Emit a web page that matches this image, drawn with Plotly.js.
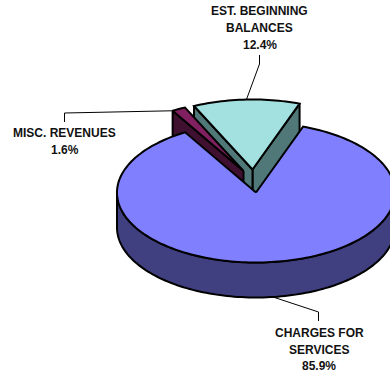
<!DOCTYPE html>
<html>
<head>
<meta charset="utf-8">
<script src="https://cdn.plot.ly/plotly-3.0.1.min.js"></script>
<style>html,body{margin:0;padding:0;background:#fff;overflow:hidden}#chart{width:390px;height:375px}</style>
</head>
<body>
<div id="chart"></div>
<script>
// Revenue shares, clockwise from the start angle
const categories = ["CHARGES FOR SERVICES", "MISC. REVENUES", "EST. BEGINNING BALANCES"];
const shares = [85.9, 1.6, 12.4];
const shareLabels = ["85.9%", "1.6%", "12.4%"];
const topColors = ["#8080FF", "#802060", "#A3E1E1"];
const wallColors = ["#404080", "#401030", "#507878"];
// Slice displacement from the pie centre
const offsetX = [0, -12.5, -3.5];
const offsetY = [0, -21.5, -23];

// Tilted pie geometry, in axis units
const CX = 256, CY = 192.5, RX = 139, RY = 70, DEPTH = 35, START = 19.8;
const INK = "#000000";

const total = shares.reduce((a, b) => a + b, 0);
const rad = d => d * Math.PI / 180;
const rim = (deg, i, drop) => [
  CX + offsetX[i] + RX * Math.sin(rad(deg)),
  CY + offsetY[i] - RY * Math.cos(rad(deg)) + (drop || 0)
];
function arc(from, to, i, drop) {
  const n = Math.max(2, Math.ceil(Math.abs(to - from) / 1.5));
  const pts = [];
  for (let k = 0; k <= n; k++) pts.push(rim(from + (to - from) * k / n, i, drop));
  return pts;
}
const apex = (i, drop) => [CX + offsetX[i], CY + offsetY[i] + (drop || 0)];

// Slice angles follow from the shares
const spans = [];
let cursor = START;
shares.forEach(v => {
  const end = cursor + v / total * 360;
  spans.push([cursor, end]);
  cursor = end;
});

const traces = [];
function polygon(pts, fill, width) {
  traces.push({
    type: "scatter", mode: "lines", hoverinfo: "skip", showlegend: false,
    x: pts.map(p => p[0]), y: pts.map(p => p[1]),
    fill: "toself", fillcolor: fill,
    line: { color: INK, width: width || 2, simplify: false }
  });
}
function leader(pts) {
  traces.push({
    type: "scatter", mode: "lines", hoverinfo: "skip", showlegend: false,
    x: pts.map(p => p[0]), y: pts.map(p => p[1]),
    line: { color: INK, width: 1 }
  });
}
function cutFace(deg, i) {
  polygon([apex(i), rim(deg, i), rim(deg, i, DEPTH), apex(i, DEPTH), apex(i)], wallColors[i]);
}

// Back slices first, the large slice last so it overlaps their walls
[2, 1].forEach(i => {
  if (i === 2) { cutFace(spans[i][1], i); }
  cutFace(spans[i][0], i);
  polygon([apex(i)].concat(arc(spans[i][0], spans[i][1], i), [apex(i)]), topColors[i]);
});

// Front wall of the large slice, then its top face
const wallTop = arc(90, 270, 0);
const wallBottom = arc(270, 90, 0, DEPTH);
polygon(wallTop.concat(wallBottom, [wallTop[0]]), wallColors[0]);
polygon([apex(0)].concat(arc(spans[0][0], spans[0][1], 0), [apex(0)]), topColors[0]);

// Leader lines run from the slice rims to their labels
const mainAnchor = rim(173, 0, DEPTH);
leader([mainAnchor, [318.5, 312], [318.5, 321]]);
const miscAnchor = rim(spans[1][0], 1);
leader([miscAnchor, [64.5, 113], [64.5, 122]]);
const estAnchor = rim(-2.5, 2);
leader([estAnchor, [259.5, 64], [259.5, 55]]);

// Multi-line labels: wrapped name followed by the share
const labelLines = [
  ["CHARGES FOR", "SERVICES", shareLabels[0]],
  ["MISC. REVENUES", shareLabels[1]],
  ["EST. BEGINNING", "BALANCES", shareLabels[2]]
];
const labelX = [319, 64.5, 259.5];
const labelY = [332.8, 133.2, 11.4];
const LINE_STEP = 16.7;
const annotations = [];
labelLines.forEach((lines, i) => lines.forEach((t, k) => annotations.push({
  text: t, x: labelX[i], y: labelY[i] + k * LINE_STEP,
  xref: "x", yref: "y", showarrow: false, xanchor: "center", yanchor: "middle",
  font: { family: "Liberation Sans, Arial, sans-serif", size: 12, color: "#111111", weight: 700 },
  borderpad: 0
})));

Plotly.newPlot("chart", traces, {
  width: 390, height: 375,
  margin: { l: 0, r: 0, t: 0, b: 0 },
  paper_bgcolor: "#ffffff", plot_bgcolor: "#ffffff",
  showlegend: false,
  xaxis: { range: [0, 390], visible: false, fixedrange: true },
  yaxis: { range: [375, 0], visible: false, fixedrange: true },
  annotations: annotations
}, { displayModeBar: false, staticPlot: true });
</script>
</body>
</html>
